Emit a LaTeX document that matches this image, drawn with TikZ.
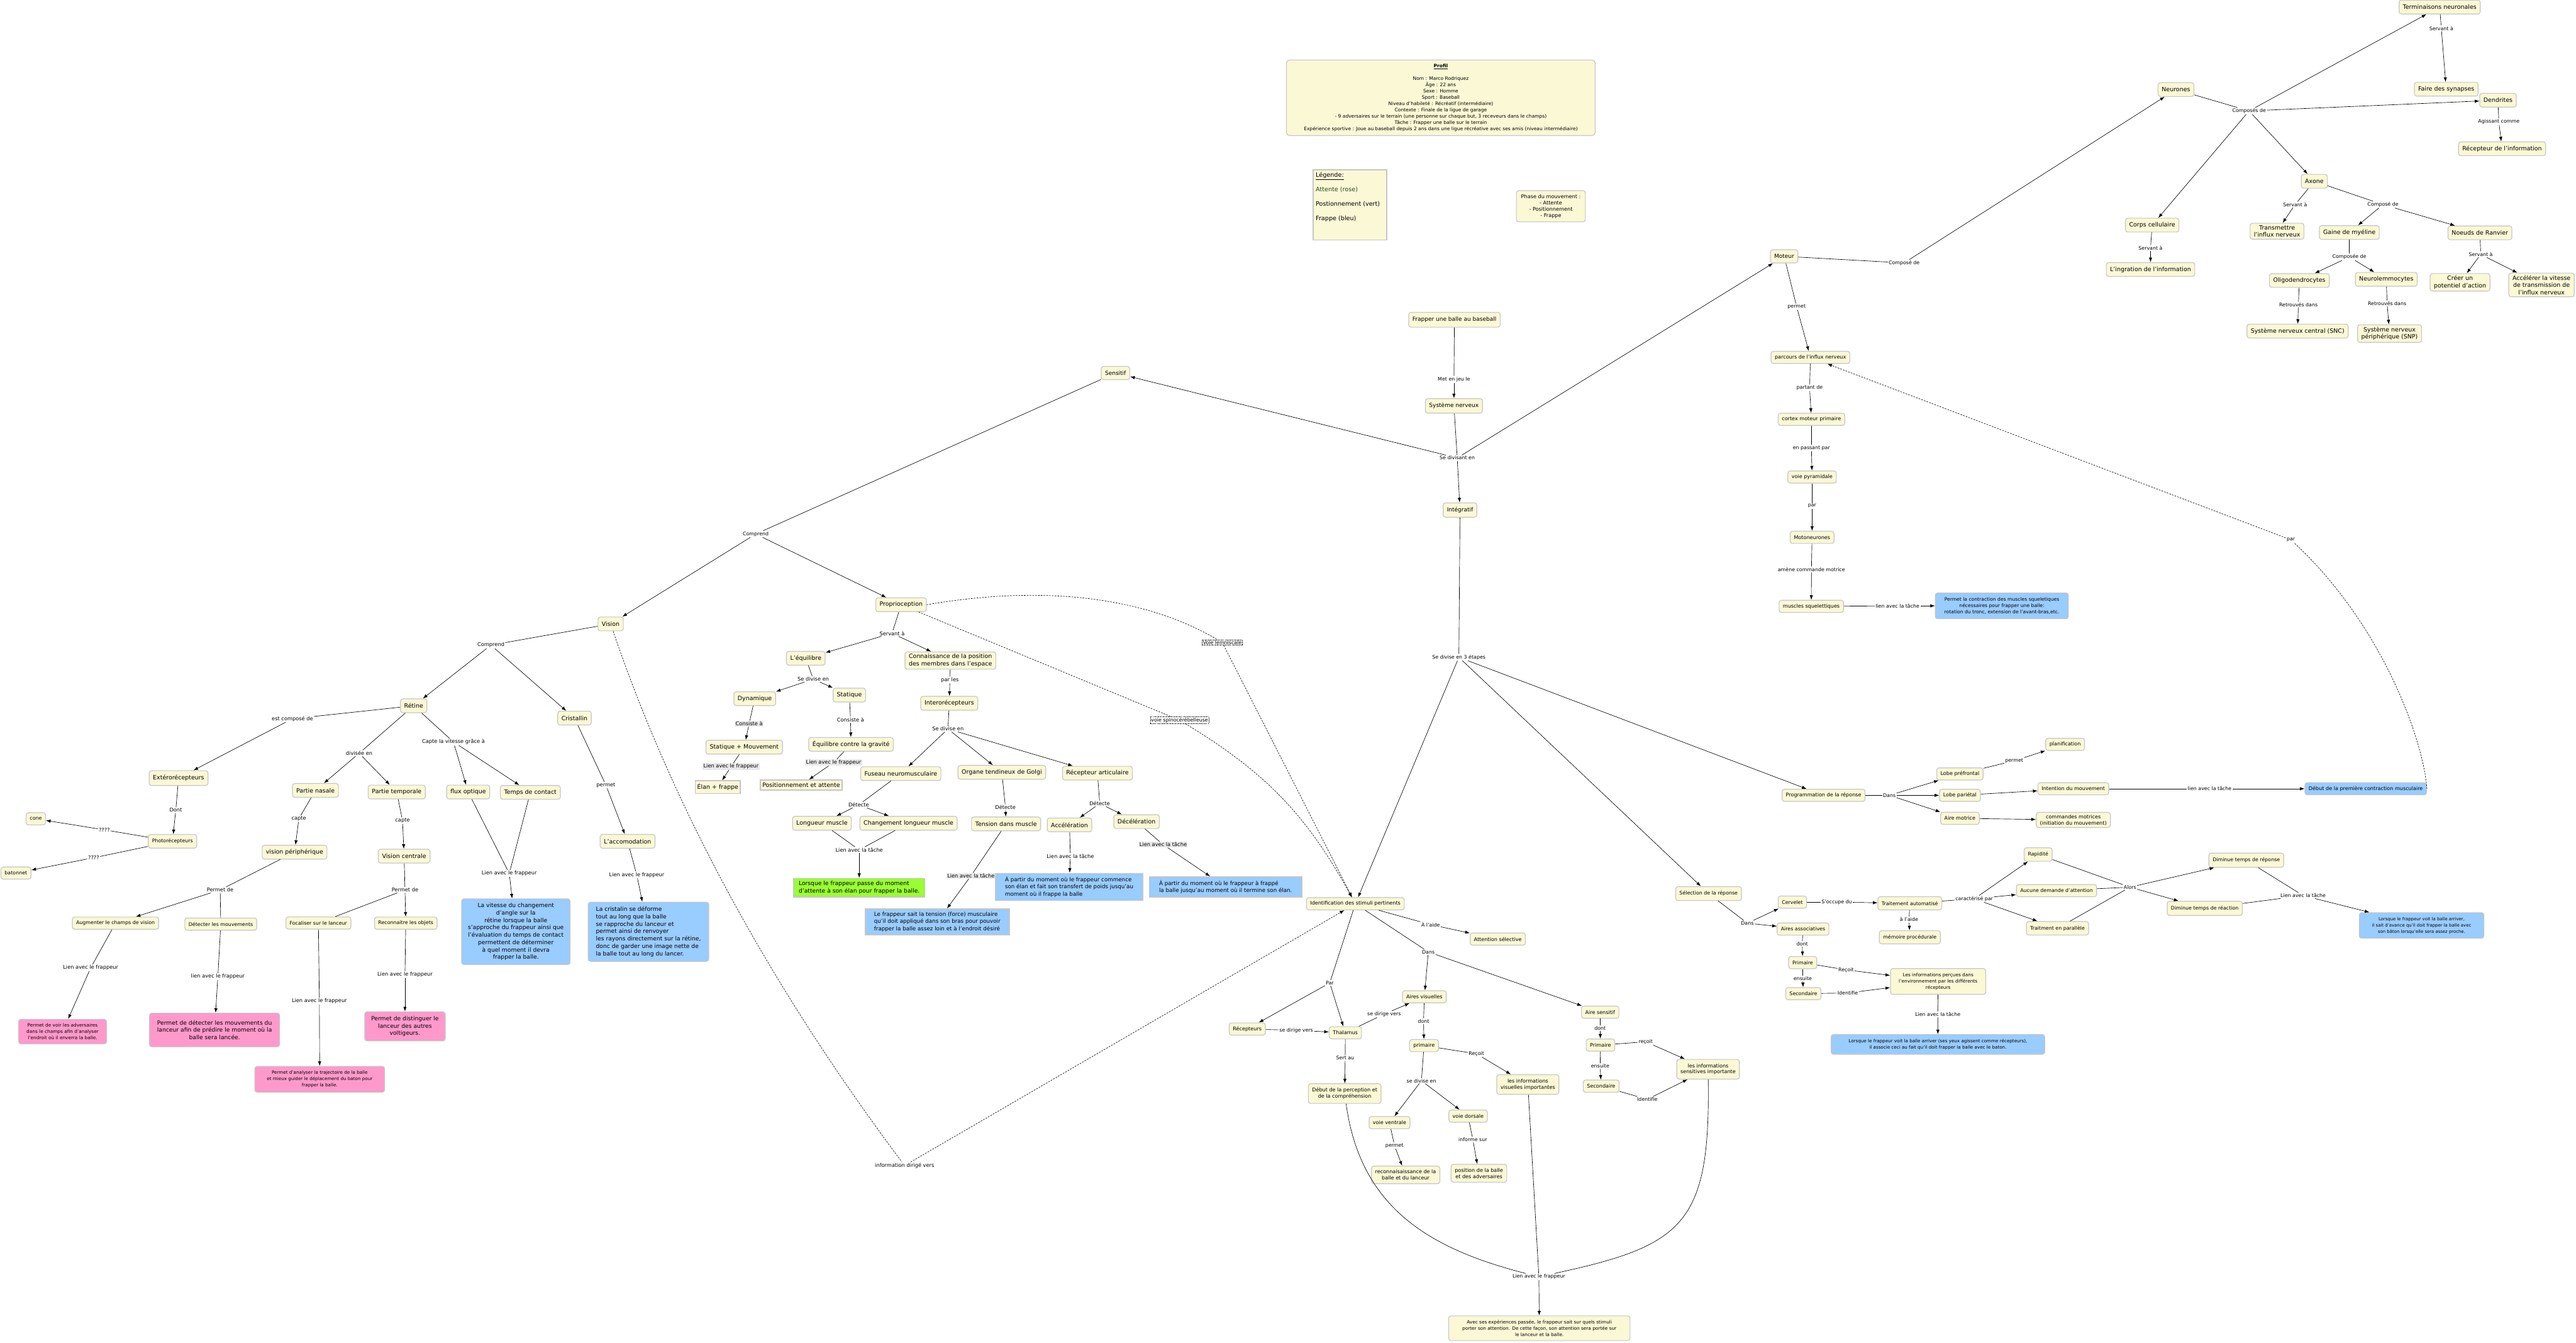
\documentclass[tikz,border=0pt]{standalone}
\usepackage{fontspec}
\setmainfont{DejaVu Sans}
\usetikzlibrary{arrows.meta}

\definecolor{conceptyellow}{RGB}{250,248,213}
\definecolor{conceptborder}{RGB}{198,198,198}
\definecolor{frappeblue}{RGB}{153,204,255}
\definecolor{attentepink}{RGB}{255,153,204}
\definecolor{positiongreen}{RGB}{153,255,51}
\definecolor{linkgray}{RGB}{232,232,232}
\definecolor{legendgreen}{RGB}{35,75,35}

\begin{document}
\begin{tikzpicture}[x=1mm, y=-1mm,
    concept/.style={rectangle, rounded corners=1.4mm, draw=conceptborder, line width=0.45mm, fill=conceptyellow, align=center, inner xsep=2.3mm, inner ysep=1.3mm, minimum height=7.4mm, font=\fontsize{8.8}{10.8}\selectfont},
    bigconcept/.style={concept, minimum height=8.4mm, font=\fontsize{10.3}{12.6}\selectfont},
    smallconcept/.style={concept, font=\fontsize{8.6}{10.6}\selectfont},
    linktext/.style={fill=white, inner sep=0.5mm, font=\fontsize{8.6}{10}\selectfont},
    graylink/.style={linktext, fill=linkgray},
    waylink/.style={linktext, draw, dash pattern=on 0.6mm off 0.4mm, line width=0.2mm},
    frappebox/.style={concept, fill=frappeblue},
    attentebox/.style={concept, fill=attentepink},
    squarebox/.style={rectangle, draw=conceptborder, line width=0.6mm, fill=conceptyellow, align=left, inner sep=1.2mm, font=\fontsize{9.5}{12.6}\selectfont},
    link/.style={draw=black, line width=0.25mm},
    linkarrow/.style={link, -{Latex[length=2.8mm,width=2mm]}},
    waypath/.style={link, dash pattern=on 1mm off 0.7mm},
    waypatharrow/.style={waypath, -{Latex[length=2.8mm,width=2mm]}}
]
\useasboundingbox[fill=white] (0,0) rectangle (1568,817);

% Profil, legende et phases
\node[concept, minimum width=188mm, minimum height=46mm, rounded corners=2mm, font=\fontsize{8.2}{10.9}\selectfont] (profil) at (877,59.5) {\underline{\textbf{Profil}}\\[3.85mm]
Nom : Marco Rodriquez\\
Âge : 22 ans\\
Sexe : Homme\\
Sport : Baseball\\
Niveau d'habileté : Récréatif (intermédiaire)\\
Contexte : Finale de la ligue de garage\\
- 9 adversaires sur le terrain (une personne sur chaque but, 3 receveurs dans le champs)\\
Tâche : Frapper une balle sur le terrain\\
Expérience sportive : Joue au baseball depuis 2 ans dans une ligue récréative avec ses amis (niveau intermédiaire)};
\node[squarebox, anchor=north west, inner sep=1.6mm, font=\fontsize{10.5}{25}\selectfont] (legende) at (799,103) {\parbox[t][39.5mm][t]{41.5mm}{\underline{Légende:}\\
{\color{legendgreen}Attente (rose)}\\
Postionnement (vert)\\
Frappe (bleu)}};
\node[concept, minimum width=42mm, minimum height=19mm, font=\fontsize{8.9}{10.9}\selectfont] (phase) at (944,125.5) {Phase du mouvement :\\- Attente\\- Positionnement\\- Frappe};

% Tronc principal
\node[concept, font=\fontsize{9.8}{12}\selectfont, minimum height=9mm] (frapper) at (885.3,194.6) {Frapper une balle au baseball};
\node[linktext] (metenjeu) at (885,231) {Met en jeu le};
\node[concept, font=\fontsize{9.8}{12}\selectfont, minimum height=8.8mm] (sysnerv) at (885,247) {Système nerveux};
\node[linktext] (sedivisant) at (887,278.7) {Se divisant en};
\node[concept, font=\fontsize{9.8}{12}\selectfont, minimum height=8.7mm] (integratif) at (888.7,310.4) {Intégratif};
\node[concept, font=\fontsize{9.8}{12}\selectfont, minimum height=8mm] (sensitif) at (679,227) {Sensitif};
\node[concept, font=\fontsize{9.8}{12}\selectfont, minimum height=8mm] (moteur) at (1086,156) {Moteur};
\node[linktext] (divise3) at (888,400) {Se divise en 3 étapes};

% Neurones
\node[bigconcept] (termin) at (1485,4.3) {Terminaisons neuronales};
\node[linktext] (servA1) at (1486,17.2) {Servant à};
\node[bigconcept] (synapses) at (1489,54.3) {Faire des synapses};
\node[linktext] (compose3) at (1159,160) {Composé de};
\node[bigconcept] (neurones) at (1324.5,54.5) {Neurones};
\node[linktext] (composes) at (1369,67.5) {Composés de};
\node[bigconcept] (dendrites) at (1520.5,61) {Dendrites};
\node[linktext] (agissant) at (1521,74) {Agissant comme};
\node[bigconcept] (recepinfo) at (1523,90.5) {Récepteur de l'information};
\node[bigconcept] (axone) at (1408.7,110.3) {Axone};
\node[linktext] (servA2) at (1397,124.5) {Servant à};
\node[linktext] (compose2) at (1450.5,124.5) {Composé de};
\node[bigconcept] (corps) at (1310,137) {Corps cellulaire};
\node[linktext] (servA3) at (1309,151) {Servant à};
\node[bigconcept] (ingration) at (1309,164) {L'ingration de l'information};
\node[bigconcept] (transmettre) at (1386,140.7) {Transmettre\\l'influx nerveux};
\node[bigconcept] (gaine) at (1430,141.5) {Gaine de myéline};
\node[bigconcept] (noeuds) at (1509.5,141.7) {Noeuds de Ranvier};
\node[linktext] (composee) at (1430,156.4) {Composée de};
\node[linktext] (servA4) at (1510,154.8) {Servant à};
\node[bigconcept] (oligo) at (1399.6,170.7) {Oligodendrocytes};
\node[bigconcept] (neurolem) at (1452.5,170) {Neurolemmocytes};
\node[bigconcept] (creer) at (1497.4,171.8) {Créer un\\potentiel d'action};
\node[bigconcept] (accelerer) at (1547,173.4) {Accélérer la vitesse\\de transmission de\\l'influx nerveux};
\node[linktext] (retrouves1) at (1399,185.3) {Retrouvés dans};
\node[linktext] (retrouves2) at (1453,184.5) {Retrouvés dans};
\node[bigconcept] (snc) at (1398.5,201.5) {Système nerveux central (SNC)};
\node[bigconcept] (snp) at (1454.5,203) {Système nerveux\\périphérique (SNP)};

% Parcours moteur
\node[linktext] (permet1) at (1093.6,186.6) {permet};
\node[concept] (parcours) at (1102,217.5) {parcours de l'influx nerveux};
\node[linktext] (partant) at (1101.5,236) {partant de};
\node[concept] (cortex) at (1102.6,255.2) {cortex moteur primaire};
\node[linktext] (passant) at (1102.6,272.7) {en passant par};
\node[concept] (pyramidale) at (1103,290.3) {voie pyramidale};
\node[linktext] (par1) at (1103,308) {par};
\node[concept] (motoneur) at (1103,327) {Motoneurones};
\node[linktext] (amene) at (1102.6,346.6) {amène commande motrice};
\node[concept] (muscles) at (1102.5,369) {muscles squelettiques};
\node[linktext] (lientache1) at (1155,368.7) {lien avec la tâche};
\node[frappebox, minimum width=81mm, minimum height=15.7mm, font=\fontsize{8.3}{10.5}\selectfont] (contraction) at (1218.5,368.7) {Permet la contraction des muscles squeletiques\\nécessaires pour frapper une balle:\\rotation du tronc, extension de l'avant-bras,etc.};
\node[linktext] (par2) at (1394.4,328.5) {par};

% Programmation de la reponse
\node[concept] (programmation) at (1110,484) {Programmation de la réponse};
\node[linktext] (dans3) at (1150,484) {Dans};
\node[concept] (prefrontal) at (1193,471) {Lobe préfrontal};
\node[concept] (parietal) at (1193,484) {Lobe pariétal};
\node[concept] (airemotrice) at (1193,498) {Aire motrice};
\node[linktext] (permet4) at (1226,463) {permet};
\node[concept] (planification) at (1257,453) {planification};
\node[concept] (intention) at (1262,480) {Intention du mouvement};
\node[concept] (commandes) at (1262,499) {commandes motrices\\(initiation du mouvement)};
\node[linktext] (lientache8) at (1345,480) {lien avec la tâche};
\node[frappebox] (debutcontr) at (1440,480) {Début de la première contraction musculaire};

% Sensitif
\node[linktext] (comprend1) at (460,325) {Comprend};
\node[bigconcept] (vision) at (371.7,379.7) {Vision};
\node[bigconcept] (proprio) at (548.5,368) {Proprioception};

% Vision
\node[linktext, font=\fontsize{9}{10}\selectfont] (comprend2) at (298.8,392.6) {Comprend};
\node[bigconcept] (retine) at (251.8,429.5) {Rétine};
\node[bigconcept] (cristallin) at (349.7,437) {Cristallin};
\node[linktext, font=\fontsize{9}{10}\selectfont] (estcompose) at (178,437.4) {est composé de};
\node[linktext, font=\fontsize{9}{10}\selectfont] (diviseeen) at (218.6,458.4) {divisée en};
\node[linktext, font=\fontsize{9}{10}\selectfont] (captevit) at (276,451.5) {Capte la vitesse grâce à};
\node[bigconcept, minimum height=9mm] (extero) at (108.7,473.5) {Extérorécepteurs};
\node[bigconcept] (nasale) at (192,481) {Partie nasale};
\node[bigconcept] (temporale) at (241.5,482) {Partie temporale};
\node[bigconcept] (flux) at (285,482) {flux optique};
\node[bigconcept] (contact) at (322.8,482.2) {Temps de contact};
\node[linktext, font=\fontsize{9}{10}\selectfont] (permet2) at (368.8,477.8) {permet};
\node[linktext, font=\fontsize{9}{10}\selectfont] (dont1) at (107,493) {Dont};
\node[smallconcept] (cone) at (21.8,498.3) {cone};
\node[linktext, font=\fontsize{9}{10}\selectfont] (q1) at (63.5,505) {????};
\node[smallconcept, minimum height=8.3mm] (photo) at (105,512) {Photorécepteurs};
\node[linktext, font=\fontsize{9}{10}\selectfont] (q2) at (57,522) {????};
\node[smallconcept] (batonnet) at (9.7,531.3) {batonnet};
\node[linktext, font=\fontsize{9}{10}\selectfont] (capte1) at (181.9,498.2) {capte};
\node[linktext, font=\fontsize{9}{10}\selectfont] (capte2) at (245,499.5) {capte};
\node[bigconcept] (periph) at (179.3,518.6) {vision périphérique};
\node[bigconcept] (centrale) at (246,521) {Vision centrale};
\node[bigconcept] (accomod) at (382,512) {L'accomodation};
\node[linktext, font=\fontsize{9}{10}\selectfont] (lienfr1) at (310,531.6) {Lien avec le frappeur};
\node[linktext, font=\fontsize{9}{10}\selectfont] (lienfr2) at (387.6,532.4) {Lien avec le frappeur};
\node[linktext, font=\fontsize{9}{10}\selectfont] (permetde1) at (134,541.6) {Permet de};
\node[linktext, font=\fontsize{9}{10}\selectfont] (permetde2) at (246.5,541.6) {Permet de};
\node[smallconcept] (augmenter) at (70.3,561.8) {Augmenter le champs de vision};
\node[smallconcept] (detecter) at (134.4,562.4) {Détecter les mouvements};
\node[smallconcept] (focaliser) at (193.8,561.7) {Focaliser sur le lanceur};
\node[smallconcept] (reconnaitre) at (247,561.8) {Reconnaitre les objets};
\node[frappebox, minimum width=66mm, minimum height=40mm, font=\fontsize{10}{12.8}\selectfont] (bluevitesse) at (314,567) {La vitesse du changement\\d'angle sur la\\rétine lorsque la balle\\s'approche du frappeur ainsi que\\l'évaluation du temps de contact\\permettent de déterminer\\à quel moment il devra\\frapper la balle.};
\node[frappebox, align=left, minimum width=73.4mm, minimum height=36mm, font=\fontsize{10}{12.8}\selectfont] (bluecristalin) at (394.7,567) {La cristalin se déforme\\tout au long que la balle\\se rapproche du lanceur et\\permet ainsi de renvoyer\\les rayons directement sur la rétine,\\donc de garder une image nette de\\la balle tout au long du lancer.};
\node[linktext, font=\fontsize{9}{10}\selectfont] (lienfr3) at (55.2,589) {Lien avec le frappeur};
\node[linktext, font=\fontsize{9}{10}\selectfont] (lienfr4) at (132.6,594.3) {lien avec le frappeur};
\node[linktext, font=\fontsize{9}{10}\selectfont] (lienfr5) at (194.4,609.2) {Lien avec le frappeur};
\node[linktext, font=\fontsize{9}{10}\selectfont] (lienfr6) at (246.5,593) {Lien avec le frappeur};
\node[attentebox, minimum width=53.5mm, minimum height=15mm, font=\fontsize{8}{11}\selectfont] (pinkvoir) at (38.1,627.8) {Permet de voir les adversaires\\dans le champs afin d'analyser\\l'endroit où il enverra la balle.};
\node[attentebox, minimum width=79.2mm, minimum height=20.5mm, font=\fontsize{10}{12.5}\selectfont] (pinkdetecter) at (130.6,626.8) {Permet de détecter les mouvements du\\lanceur afin de prédire le moment où la\\balle sera lancée.};
\node[attentebox, minimum width=49mm, minimum height=17.7mm, font=\fontsize{10}{12.5}\selectfont] (pinkdistinguer) at (246.5,624.6) {Permet de distinguer le\\lanceur des autres\\voltigeurs.};
\node[attentebox, minimum width=79mm, minimum height=15.7mm, font=\fontsize{7.8}{11}\selectfont] (pinkanalyser) at (194.6,656.8) {Permet d'analyser la trajectoire de la balle\\et mieux guider le déplacement du baton pour\\frapper la balle.};
\node[linktext, font=\fontsize{9}{10}\selectfont] (infodirige) at (550.6,709.3) {information dirigé vers};

% Proprioception
\node[linktext, font=\fontsize{9}{10}\selectfont] (servA5) at (543,385.4) {Servant à};
\node[bigconcept] (equilibre) at (490.5,400.6) {L'équilibre};
\node[bigconcept] (connaissance) at (578.5,402) {Connaissance de la position\\des membres dans l'espace};
\node[linktext, font=\fontsize{9}{10}\selectfont] (sedivise1) at (495,413.3) {Se divise en};
\node[linktext, font=\fontsize{9}{10}\selectfont] (parles) at (578.2,413.8) {par les};
\node[bigconcept] (dynamique) at (459.4,425.2) {Dynamique};
\node[bigconcept] (statique) at (517,423) {Statique};
\node[bigconcept] (intero) at (577.8,428) {Interorécepteurs};
\node[graylink, font=\fontsize{9}{10}\selectfont] (consiste1) at (456,440.3) {Consiste à};
\node[linktext, font=\fontsize{9}{10}\selectfont] (consiste2) at (517.7,438) {Consiste à};
\node[linktext, font=\fontsize{9}{10}\selectfont] (sedivise2) at (577,443.6) {Se divise en};
\node[bigconcept] (statmouv) at (453,454.7) {Statique + Mouvement};
\node[bigconcept] (eqgrav) at (518,453) {Équilibre contre la gravité};
\node[graylink, font=\fontsize{9}{10}\selectfont] (lienfr7) at (445,466.5) {Lien avec le frappeur};
\node[graylink, font=\fontsize{9}{10}\selectfont] (lienfr8) at (507.4,464) {Lien avec le frappeur};
\node[squarebox, font=\fontsize{10.3}{12.6}\selectfont, minimum height=7.7mm] (elan) at (436.9,479) {Élan + frappe};
\node[squarebox, font=\fontsize{10.3}{12.6}\selectfont, minimum height=6mm, inner ysep=0.6mm] (positatt) at (487.7,477.7) {Positionnement et attente};
\node[bigconcept] (fuseau) at (548.3,470.8) {Fuseau neuromusculaire};
\node[bigconcept] (golgi) at (609.8,470) {Organe tendineux de Golgi};
\node[bigconcept] (artic) at (668,470.5) {Récepteur articulaire};
\node[linktext, font=\fontsize{9}{10}\selectfont] (detecte1) at (522.7,489.8) {Détecte};
\node[linktext, font=\fontsize{9}{10}\selectfont] (detecte2) at (612,491.3) {Détecte};
\node[linktext, font=\fontsize{9}{10}\selectfont] (detecte3) at (669.4,489) {Détecte};
\node[bigconcept] (longueur) at (500.3,501) {Longueur muscle};
\node[bigconcept] (changement) at (553,501) {Changement longueur muscle};
\node[bigconcept] (tension) at (612.4,501.4) {Tension dans muscle};
\node[bigconcept] (acceleration) at (651,502) {Accélération};
\node[bigconcept] (deceleration) at (691.8,500) {Décélération};
\node[linktext, font=\fontsize{9}{10}\selectfont] (lientache2) at (523,517.2) {Lien avec la tâche};
\node[graylink, font=\fontsize{9}{10}\selectfont] (lientache3) at (708,514) {Lien avec la tâche};
\node[linktext, font=\fontsize{9}{10}\selectfont] (lientache4) at (651.5,521) {Lien avec la tâche};
\node[graylink, font=\fontsize{9}{10}\selectfont] (lientache5) at (591,533) {Lien avec la tâche};
\node[squarebox, fill=positiongreen, minimum width=80mm, minimum height=11.2mm, font=\fontsize{10}{13}\selectfont] (greenelan) at (523,540.2) {Lorsque le frappeur passe du moment\\d'attente à son élan pour frapper la balle.};
\node[squarebox, fill=frappeblue, minimum width=87.6mm, minimum height=15.7mm] (bluetension) at (570.5,561) {Le frappeur sait la tension (force) musculaire\\qu'il doit appliqué dans son bras pour pouvoir\\frapper la balle assez loin et à l'endroit désiré};
\node[squarebox, fill=frappeblue, minimum width=89.6mm, minimum height=16.5mm] (blueaccel) at (650.8,539.7) {À partir du moment où le frappeur commence\\son élan et fait son transfert de poids jusqu'au\\moment où il frappe la balle};
\node[squarebox, fill=frappeblue, minimum width=93mm, minimum height=12.2mm] (bluedecel) at (746,539.7) {À partir du moment où le frappeur à frappé\\la balle jusqu'au moment où il termine son élan.};
\node[waylink] (lemnis) at (744,391) {Voie lemniscale};
\node[waylink] (spino) at (718,438.3) {voie spinocérébelleuse};

% Identification des stimuli
\node[concept] (ident) at (825,550) {Identification des stimuli pertinents};
\node[linktext] (alaide) at (870.8,562.7) {À l'aide};
\node[concept] (attention) at (911.7,571.5) {Attention sélective};
\node[linktext] (dans1) at (869.4,579.3) {Dans};
\node[linktext] (par3) at (809.4,598.2) {Par};
\node[concept] (airesvis) at (867,606.6) {Aires visuelles};
\node[concept] (airesens) at (974,616) {Aire sensitif};
\node[linktext] (sedirige1) at (842.5,617.2) {se dirige vers};
\node[concept] (recepteurs) at (759.2,626.2) {Récepteurs};
\node[linktext] (sedirige2) at (789,627) {se dirige vers};
\node[concept] (thalamus) at (818.9,628.5) {Thalamus};
\node[linktext] (dont2) at (866.5,621.4) {dont};
\node[concept] (primaire1) at (866.8,636.3) {primaire};
\node[linktext] (dont3) at (974,625.7) {dont};
\node[concept] (primaire2) at (974.2,636) {Primaire};
\node[linktext] (recoit1) at (1001.7,634) {reçoit};
\node[linktext] (recoit2) at (898.7,641.3) {Reçoit};
\node[linktext] (sertau) at (818.8,643.8) {Sert au};
\node[linktext] (ensuite1) at (974,648.8) {ensuite};
\node[concept, minimum height=12mm] (infosens) at (1039.7,650.7) {les informations\\sensitives importante};
\node[concept] (secondaire1) at (974.6,661) {Secondaire};
\node[linktext] (identifie1) at (1002.7,669) {Identifie};
\node[linktext] (sedivise3) at (865.2,657.7) {se divise en};
\node[concept, minimum height=12mm] (debutperc) at (818.5,665.5) {Début de la perception et\\de la compréhension};
\node[concept, minimum height=12mm] (infovis) at (930,660) {les informations\\visuelles importantes};
\node[concept] (ventrale) at (845.8,683.2) {voie ventrale};
\node[concept] (dorsale) at (893.6,679.2) {voie dorsale};
\node[linktext] (permet3) at (848.8,697.2) {permet};
\node[linktext] (informe) at (896.5,693.5) {informe sur};
\node[concept, minimum height=10.7mm] (reconn) at (855.6,715) {reconnaisaissance de la\\balle et du lanceur};
\node[concept, minimum height=10.9mm] (position) at (900.2,714) {position de la balle\\et des adversaires};
\node[linktext] (lienfr9) at (936.7,777) {Lien avec le frappeur};
\node[concept, minimum width=110.4mm, minimum height=15mm, font=\fontsize{8}{10.8}\selectfont] (avecses) at (937,808.3) {Avec ses expériences passée, le frappeur sait sur quels stimuli\\porter son attention. De cette façon, son attention sera portée sur\\le lanceur et la balle.};

% Selection de la reponse
\node[smallconcept, minimum height=8.5mm] (selection) at (1040,543.8) {Sélection de la réponse};
\node[linktext] (dans2) at (1063.6,561.8) {Dans};
\node[smallconcept] (cervelet) at (1091,549) {Cervelet};
\node[linktext] (occupe) at (1118,549) {S'occupe du};
\node[smallconcept, minimum height=8mm] (traitauto) at (1162.5,549.7) {Traitement automatisé};
\node[linktext] (caracterise) at (1201.7,547) {caractérisé par};
\node[linktext] (alaide2) at (1162,559.6) {à l'aide};
\node[smallconcept, minimum height=8mm] (memoire) at (1162.5,570.4) {mémoire procédurale};
\node[smallconcept] (airesasso) at (1097.5,565.4) {Aires associatives};
\node[linktext] (dont4) at (1097,574.4) {dont};
\node[smallconcept] (primaire3) at (1097.3,585.8) {Primaire};
\node[linktext] (recoit3) at (1123.7,590.2) {Reçoit};
\node[linktext] (ensuite2) at (1097.3,595.6) {ensuite};
\node[smallconcept] (secondaire2) at (1097.7,604.7) {Secondaire};
\node[linktext] (identifie2) at (1124.7,604.3) {Identifie};
\node[concept, minimum width=58mm, minimum height=15.7mm, font=\fontsize{8}{10.9}\selectfont] (infopercues) at (1179.7,597.3) {Les informations perçues dans\\l'environnement par les différents\\récepteurs};
\node[linktext] (lientache6) at (1179.5,617.3) {Lien avec la tâche};
\node[frappebox, minimum width=130mm, minimum height=12mm, font=\fontsize{7.8}{10.3}\selectfont] (bluerecept) at (1179.6,635.6) {Lorsque le frappeur voit la balle arriver (ses yeux agissent comme récepteurs),\\il associe ceci au fait qu'il doit frapper la balle avec le baton.};
\node[smallconcept, minimum height=8.2mm] (rapidite) at (1240.6,520) {Rapidité};
\node[smallconcept] (aucune) at (1251.8,542) {Aucune demande d'attention};
\node[smallconcept, minimum height=8.2mm] (parallele) at (1252.4,564.9) {Traitment en parallèle};
\node[linktext] (alors) at (1296.5,539.9) {Alors};
\node[smallconcept, minimum height=8.6mm] (dimrep) at (1367.3,523.5) {Diminue temps de réponse};
\node[smallconcept, minimum height=8.6mm] (dimreac) at (1342,552.8) {Diminue temps de réaction};
\node[linktext] (lientache7) at (1401.9,545) {Lien avec la tâche};
\node[frappebox, minimum width=75.8mm, minimum height=15.6mm, font=\fontsize{7.5}{10.8}\selectfont] (blueavance) at (1474,563.2) {Lorsque le frappeur voit la balle arriver,\\il sait d'avance qu'il doit frapper la balle avec\\son bâton lorsqu'elle sera assez proche.};

% Liens du tronc
\draw[link] (frapper) -- (metenjeu);
\draw[linkarrow] (metenjeu) -- (sysnerv);
\draw[link] (sysnerv) -- (sedivisant);
\draw[linkarrow] (sedivisant) -- (sensitif);
\draw[linkarrow] (sedivisant) -- (integratif);
\draw[linkarrow] (sedivisant) -- (moteur);
\draw[link] (integratif) -- (divise3);
\draw[linkarrow] (divise3) -- (ident);
\draw[linkarrow] (divise3) -- (programmation);
\draw[linkarrow] (divise3) -- (selection);

% Liens neurones
\draw[link] (moteur) -- (compose3);
\draw[linkarrow] (compose3) -- (neurones);
\draw[link] (neurones) -- (composes);
\draw[linkarrow] (composes) -- (termin);
\draw[linkarrow] (composes) -- (dendrites);
\draw[linkarrow] (composes) -- (axone);
\draw[linkarrow] (composes) -- (corps);
\draw[link] (termin) -- (servA1);
\draw[linkarrow] (servA1) -- (synapses);
\draw[link] (dendrites) -- (agissant);
\draw[linkarrow] (agissant) -- (recepinfo);
\draw[link] (corps) -- (servA3);
\draw[linkarrow] (servA3) -- (ingration);
\draw[link] (axone) -- (servA2);
\draw[linkarrow] (servA2) -- (transmettre);
\draw[link] (axone) -- (compose2);
\draw[linkarrow] (compose2) -- (gaine);
\draw[linkarrow] (compose2) -- (noeuds);
\draw[link] (gaine) -- (composee);
\draw[linkarrow] (composee) -- (oligo);
\draw[linkarrow] (composee) -- (neurolem);
\draw[link] (noeuds) -- (servA4);
\draw[linkarrow] (servA4) -- (creer);
\draw[linkarrow] (servA4) -- (accelerer);
\draw[link] (oligo) -- (retrouves1);
\draw[linkarrow] (retrouves1) -- (snc);
\draw[link] (neurolem) -- (retrouves2);
\draw[linkarrow] (retrouves2) -- (snp);

% Liens moteurs
\draw[link] (moteur) -- (permet1);
\draw[linkarrow] (permet1) -- (parcours);
\draw[link] (parcours) -- (partant);
\draw[linkarrow] (partant) -- (cortex);
\draw[link] (cortex) -- (passant);
\draw[linkarrow] (passant) -- (pyramidale);
\draw[link] (pyramidale) -- (par1);
\draw[linkarrow] (par1) -- (motoneur);
\draw[link] (motoneur) -- (amene);
\draw[linkarrow] (amene) -- (muscles);
\draw[link] (muscles) -- (lientache1);
\draw[linkarrow] (lientache1) -- (contraction);

% Liens programmation
\draw[link] (programmation) -- (dans3);
\draw[linkarrow] (dans3) -- (prefrontal);
\draw[linkarrow] (dans3) -- (parietal);
\draw[linkarrow] (dans3) -- (airemotrice);
\draw[link] (prefrontal) -- (permet4);
\draw[linkarrow] (permet4) -- (planification);
\draw[linkarrow] (parietal) -- (intention);
\draw[linkarrow] (airemotrice) -- (commandes);
\draw[link] (intention) -- (lientache8);
\draw[linkarrow] (lientache8) -- (debutcontr);
\draw[waypath] (debutcontr.east) .. controls (1475,450) and (1450,380) .. (par2);
\draw[waypatharrow] (par2) -- (parcours);

% Liens sensitif
\draw[link] (sensitif) -- (comprend1);
\draw[linkarrow] (comprend1) -- (vision);
\draw[linkarrow] (comprend1) -- (proprio);

% Liens vision
\draw[link] (vision) -- (comprend2);
\draw[linkarrow] (comprend2) -- (retine);
\draw[linkarrow] (comprend2) -- (cristallin);
\draw[link] (retine) -- (estcompose);
\draw[linkarrow] (estcompose) -- (extero);
\draw[link] (retine) -- (diviseeen);
\draw[linkarrow] (diviseeen) -- (nasale);
\draw[linkarrow] (diviseeen) -- (temporale);
\draw[link] (retine) -- (captevit);
\draw[linkarrow] (captevit) -- (flux);
\draw[linkarrow] (captevit) -- (contact);
\draw[link] (cristallin) -- (permet2);
\draw[linkarrow] (permet2) -- (accomod);
\draw[link] (extero) -- (dont1);
\draw[linkarrow] (dont1) -- (photo);
\draw[link] (photo) -- (q1);
\draw[linkarrow] (q1) -- (cone);
\draw[link] (photo) -- (q2);
\draw[linkarrow] (q2) -- (batonnet);
\draw[link] (nasale) -- (capte1);
\draw[linkarrow] (capte1) -- (periph);
\draw[link] (temporale) -- (capte2);
\draw[linkarrow] (capte2) -- (centrale);
\draw[link] (flux) -- (lienfr1);
\draw[link] (contact) -- (lienfr1);
\draw[linkarrow] (lienfr1) -- (bluevitesse);
\draw[link] (accomod) -- (lienfr2);
\draw[linkarrow] (lienfr2) -- (bluecristalin);
\draw[link] (periph) -- (permetde1);
\draw[linkarrow] (permetde1) -- (augmenter);
\draw[link] (permetde1) -- (detecter);
\draw[link] (centrale) -- (permetde2);
\draw[link] (permetde2) -- (focaliser);
\draw[linkarrow] (permetde2) -- (reconnaitre);
\draw[link] (augmenter) -- (lienfr3);
\draw[linkarrow] (lienfr3) -- (pinkvoir);
\draw[link] (detecter) -- (lienfr4);
\draw[linkarrow] (lienfr4) -- (pinkdetecter);
\draw[link] (focaliser) -- (lienfr5);
\draw[linkarrow] (lienfr5) -- (pinkanalyser);
\draw[link] (reconnaitre) -- (lienfr6);
\draw[linkarrow] (lienfr6) -- (pinkdistinguer);
\draw[waypath] (vision) .. controls (409.8,491.6) and (468.8,600.1) .. (infodirige);
\draw[waypatharrow] (infodirige) -- (ident);

% Liens proprioception
\draw[link] (proprio) -- (servA5);
\draw[linkarrow] (servA5) -- (equilibre);
\draw[linkarrow] (servA5) -- (connaissance);
\draw[link] (equilibre) -- (sedivise1);
\draw[linkarrow] (sedivise1) -- (dynamique);
\draw[linkarrow] (sedivise1) -- (statique);
\draw[link] (dynamique) -- (consiste1);
\draw[linkarrow] (consiste1) -- (statmouv);
\draw[link] (statique) -- (consiste2);
\draw[linkarrow] (consiste2) -- (eqgrav);
\draw[link] (statmouv) -- (lienfr7);
\draw[linkarrow] (lienfr7) -- (elan);
\draw[link] (eqgrav) -- (lienfr8);
\draw[linkarrow] (lienfr8) -- (positatt);
\draw[link] (connaissance) -- (parles);
\draw[linkarrow] (parles) -- (intero);
\draw[link] (intero) -- (sedivise2);
\draw[linkarrow] (sedivise2) -- (fuseau);
\draw[linkarrow] (sedivise2) -- (golgi);
\draw[linkarrow] (sedivise2) -- (artic);
\draw[link] (fuseau) -- (detecte1);
\draw[linkarrow] (detecte1) -- (longueur);
\draw[linkarrow] (detecte1) -- (changement);
\draw[link] (golgi) -- (detecte2);
\draw[linkarrow] (detecte2) -- (tension);
\draw[link] (artic) -- (detecte3);
\draw[linkarrow] (detecte3) -- (acceleration);
\draw[linkarrow] (detecte3) -- (deceleration);
\draw[link] (longueur) -- (lientache2);
\draw[link] (changement) -- (lientache2);
\draw[linkarrow] (lientache2) -- (greenelan);
\draw[link] (tension) -- (lientache5);
\draw[linkarrow] (lientache5) -- (bluetension);
\draw[link] (acceleration) -- (lientache4);
\draw[linkarrow] (lientache4) -- (blueaccel);
\draw[link] (deceleration) -- (lientache3);
\draw[linkarrow] (lientache3) -- (bluedecel);
\draw[waypath] (proprio.east) .. controls (640,355) and (700,365) .. (lemnis);
\draw[waypatharrow] (lemnis) -- (ident);
\draw[waypath] (proprio) -- (spino);
\draw[waypatharrow] (spino) to[bend left=15] (ident);

% Liens identification
\draw[link] (ident) -- (alaide);
\draw[linkarrow] (alaide) -- (attention);
\draw[link] (ident) -- (dans1);
\draw[linkarrow] (dans1) -- (airesvis);
\draw[linkarrow] (dans1) -- (airesens);
\draw[link] (ident) -- (par3);
\draw[linkarrow] (par3) -- (recepteurs);
\draw[linkarrow] (par3) -- (thalamus);
\draw[link] (recepteurs) -- (sedirige2);
\draw[linkarrow] (sedirige2) -- (thalamus);
\draw[link] (thalamus) -- (sedirige1);
\draw[linkarrow] (sedirige1) -- (airesvis);
\draw[link] (thalamus) -- (sertau);
\draw[linkarrow] (sertau) -- (debutperc);
\draw[link] (airesvis) -- (dont2);
\draw[linkarrow] (dont2) -- (primaire1);
\draw[link] (primaire1) -- (recoit2);
\draw[linkarrow] (recoit2) -- (infovis);
\draw[link] (primaire1) -- (sedivise3);
\draw[linkarrow] (sedivise3) -- (ventrale);
\draw[linkarrow] (sedivise3) -- (dorsale);
\draw[link] (ventrale) -- (permet3);
\draw[linkarrow] (permet3) -- (reconn);
\draw[link] (dorsale) -- (informe);
\draw[linkarrow] (informe) -- (position);
\draw[link] (airesens) -- (dont3);
\draw[linkarrow] (dont3) -- (primaire2);
\draw[link] (primaire2) -- (recoit1);
\draw[linkarrow] (recoit1) -- (infosens);
\draw[link] (primaire2) -- (ensuite1);
\draw[linkarrow] (ensuite1) -- (secondaire1);
\draw[link] (secondaire1) -- (identifie1);
\draw[linkarrow] (identifie1) -- (infosens);
\draw[link] (debutperc) .. controls (828,735) and (870,760) .. (lienfr9);
\draw[link] (infovis) -- (lienfr9);
\draw[link] (infosens) .. controls (1041,745) and (1025,758) .. (lienfr9);
\draw[linkarrow] (lienfr9) -- (avecses);

% Liens selection
\draw[link] (selection) -- (dans2);
\draw[linkarrow] (dans2) -- (cervelet);
\draw[linkarrow] (dans2) -- (airesasso);
\draw[link] (cervelet) -- (occupe);
\draw[linkarrow] (occupe) -- (traitauto);
\draw[link] (traitauto) -- (caracterise);
\draw[linkarrow] (caracterise) -- (rapidite);
\draw[linkarrow] (caracterise) -- (aucune);
\draw[linkarrow] (caracterise) -- (parallele);
\draw[link] (traitauto) -- (alaide2);
\draw[linkarrow] (alaide2) -- (memoire);
\draw[link] (rapidite) -- (alors);
\draw[link] (aucune) -- (alors);
\draw[link] (parallele) -- (alors);
\draw[linkarrow] (alors) -- (dimrep);
\draw[linkarrow] (alors) -- (dimreac);
\draw[link] (dimrep) -- (lientache7);
\draw[link] (dimreac) -- (lientache7);
\draw[linkarrow] (lientache7) -- (blueavance);
\draw[link] (airesasso) -- (dont4);
\draw[linkarrow] (dont4) -- (primaire3);
\draw[link] (primaire3) -- (recoit3);
\draw[linkarrow] (recoit3) -- (infopercues);
\draw[link] (primaire3) -- (ensuite2);
\draw[linkarrow] (ensuite2) -- (secondaire2);
\draw[link] (secondaire2) -- (identifie2);
\draw[linkarrow] (identifie2) -- (infopercues);
\draw[link] (infopercues) -- (lientache6);
\draw[linkarrow] (lientache6) -- (bluerecept);

\end{tikzpicture}
\end{document}
